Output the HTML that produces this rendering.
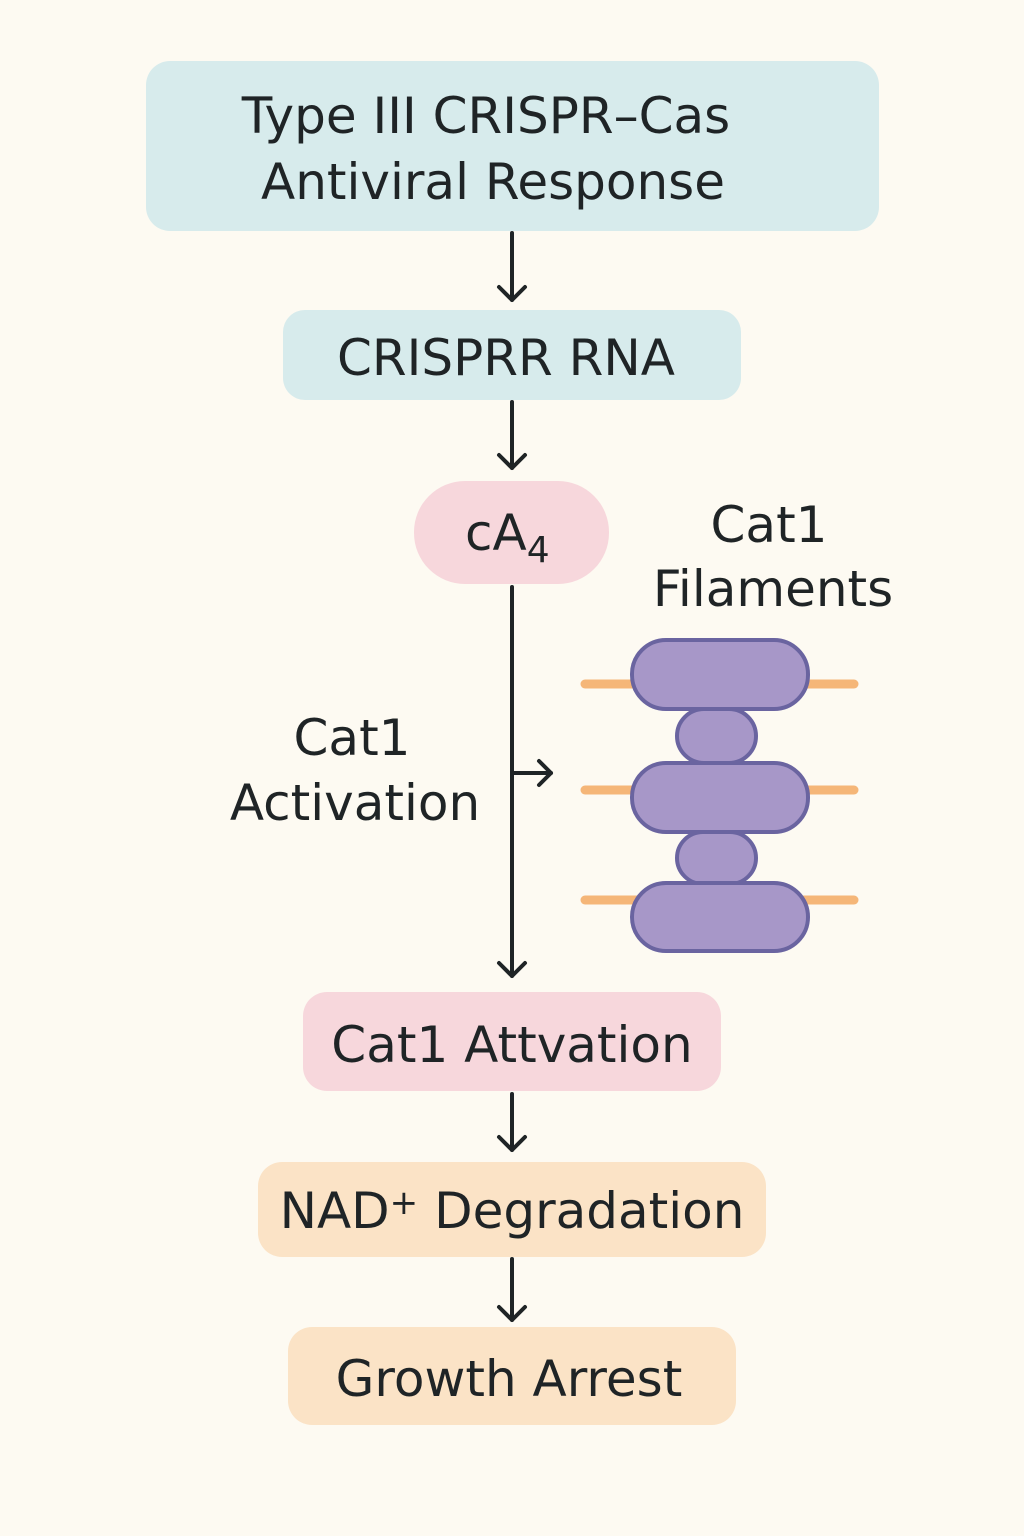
<!DOCTYPE html>
<html><head><meta charset="utf-8"><style>
html,body{margin:0;padding:0;background:#fdfaf2;}
svg{display:block;}
text{font-family:"DejaVu Sans","Liberation Sans",sans-serif;fill:#1f2426;}
</style></head><body>
<svg width="1024" height="1536" viewBox="0 0 1024 1536" xmlns="http://www.w3.org/2000/svg">
<rect width="1024" height="1536" fill="#fdfaf2"/>
<defs>
<marker id="ah" viewBox="0 0 20 20" refX="10" refY="18" markerWidth="20" markerHeight="20" markerUnits="userSpaceOnUse" orient="auto-start-reverse">
</marker>
</defs>
<g stroke="#1f2426" stroke-width="4" fill="none" stroke-linecap="round" stroke-linejoin="round">
<line x1="512" y1="233" x2="512" y2="300"/><polyline points="499,287 512,300 525,287"/>
<line x1="512" y1="402" x2="512" y2="468"/><polyline points="499,455 512,468 525,455"/>
<line x1="512" y1="587" x2="512" y2="976"/><polyline points="499,963 512,976 525,963"/>
<line x1="512" y1="773" x2="551" y2="773"/><polyline points="539,761 551,773 539,785"/>
<line x1="512" y1="1094" x2="512" y2="1150"/><polyline points="499,1137 512,1150 525,1137"/>
<line x1="512" y1="1259" x2="512" y2="1320"/><polyline points="499,1307 512,1320 525,1307"/>
</g>
<rect x="146" y="61" width="733" height="170" rx="24" fill="#d7ebec"/>
<text x="486" y="133" font-size="50" text-anchor="middle">Type III CRISPR–Cas</text>
<text x="493" y="199" font-size="50" text-anchor="middle">Antiviral Response</text>
<rect x="283" y="310" width="458" height="90" rx="22" fill="#d7ebec"/>
<text x="506" y="375" font-size="50" text-anchor="middle">CRISPRR RNA</text>
<rect x="414" y="481" width="195" height="103" rx="51" fill="#f7d7dc"/>
<text x="465" y="550" font-size="50">cA<tspan font-size="36" dy="12">4</tspan></text>
<text x="769" y="542" font-size="50" text-anchor="middle">Cat1</text>
<text x="773" y="606" font-size="50" text-anchor="middle">Filaments</text>
<text x="352" y="755" font-size="50" text-anchor="middle">Cat1</text>
<text x="355" y="820" font-size="50" text-anchor="middle">Activation</text>
<g stroke="#f5b678" stroke-width="9" stroke-linecap="round">
<line x1="585" y1="684" x2="854" y2="684"/>
<line x1="585" y1="790" x2="854" y2="790"/>
<line x1="585" y1="900" x2="854" y2="900"/>
</g>
<g fill="#a797c8" stroke="#6a64a0" stroke-width="4">
<rect x="677" y="709" width="79" height="54" rx="27"/>
<rect x="677" y="832" width="79" height="52" rx="26"/>
<rect x="632" y="640" width="176" height="69" rx="34"/>
<rect x="632" y="763" width="176" height="69" rx="34"/>
<rect x="632" y="883" width="176" height="68" rx="34"/>
</g>
<rect x="303" y="992" width="418" height="99" rx="24" fill="#f7d7dc"/>
<text x="512" y="1062" font-size="50" text-anchor="middle">Cat1 Attvation</text>
<rect x="258" y="1162" width="508" height="95" rx="24" fill="#fbe3c6"/>
<text x="512" y="1228" font-size="50" text-anchor="middle">NAD<tspan font-size="34" dy="-14">+</tspan><tspan dy="14"> Degradation</tspan></text>
<rect x="288" y="1327" width="448" height="98" rx="24" fill="#fbe3c6"/>
<text x="509" y="1396" font-size="50" text-anchor="middle">Growth Arrest</text>
</svg>
</body></html>
